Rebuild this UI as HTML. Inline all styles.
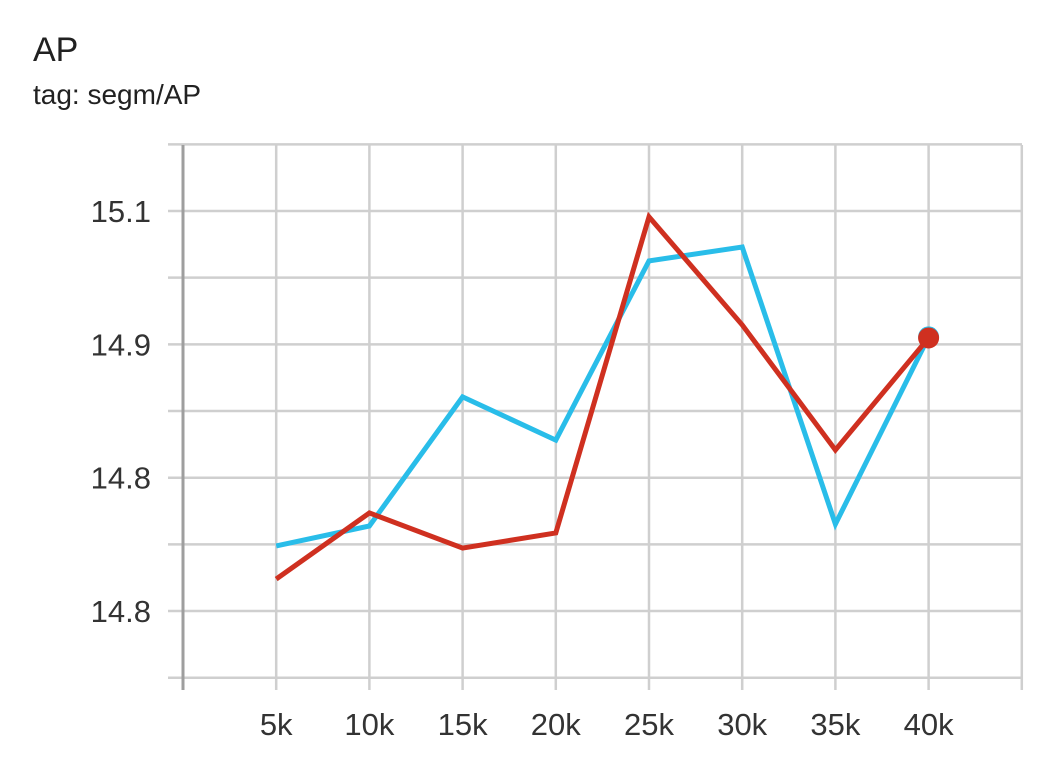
<!DOCTYPE html>
<html><head><meta charset="utf-8"><style>
body{margin:0;background:#fff;width:1040px;height:763px;overflow:hidden;font-family:"Liberation Sans",sans-serif}
</style></head><body>
<svg id="chart" width="1040" height="763" xmlns="http://www.w3.org/2000/svg">
<text x="33" y="61" font-size="34" fill="#212121" font-family="Liberation Sans, sans-serif">AP</text>
<text x="33" y="104" font-size="28" fill="#212121" font-family="Liberation Sans, sans-serif">tag: segm/AP</text>
<g id="grid"></g><g id="series"></g><g id="labels"></g>
</svg>
<script>
const steps=[5,10,15,20,25,30,35,40];
const xTickLabels=["5k","10k","15k","20k","25k","30k","35k","40k"];
const blueValues=[14.9244,14.9319,14.9803,14.9641,15.0313,15.0365,14.9326,15.0028];
const redValues=[14.9120,14.9368,14.9236,14.9293,15.0478,15.0073,14.9604,15.0024];
const yTicks=[15.05,15.0,14.95,14.9];
const yTickLabels=["15.1","14.9","14.8","14.8"];
const ns="http://www.w3.org/2000/svg";
function x(k){return 183+k*18.64;}
function y(v){return 211+(15.05-v)*2667;}
function mk(t,a,p){const e=document.createElementNS(ns,t);for(const k in a)e.setAttribute(k,a[k]);p.appendChild(e);return e;}
const grid=document.getElementById('grid'),ser=document.getElementById('series'),lab=document.getElementById('labels');
for(let i=0;i<=8;i++){
  const v=15.075-i*0.025;
  const l=mk('line',{x1:168,x2:1022,y1:y(v),y2:y(v),stroke:'#cfcfcf','stroke-width':2.5},grid);
  
  
}
for(let k=5;k<=45;k+=5){
  const l=mk('line',{x1:x(k),x2:x(k),y1:145,y2:690,stroke:'#cfcfcf','stroke-width':2.5},grid);
  
  
}
const ax=mk('line',{x1:183,x2:183,y1:145,y2:690,stroke:'#9e9e9e','stroke-width':3},grid);


yTicks.forEach((v,i)=>{
  const t=mk('text',{x:151,y:y(v)+11,'text-anchor':'end','font-size':31,fill:'#333'},lab);
  t.textContent=yTickLabels[i];
  
  
});
steps.forEach((k,i)=>{
  const t=mk('text',{x:x(k),y:735,'text-anchor':'middle','font-size':31,fill:'#333'},lab);
  t.textContent=xTickLabels[i];
  
  
});
function draw(vals,color,name){
  const p=mk('polyline',{points:vals.map((v,i)=>x(steps[i])+','+y(v)).join(' '),fill:'none',stroke:color,'stroke-width':5,'stroke-linejoin':'miter'},ser);
  
  
  const n=vals.length-1;
  const c=mk('circle',{cx:x(steps[n]),cy:y(vals[n]),r:10.5,fill:color},ser);
  
  
}
draw(blueValues,'#29bde9','blue-series');
draw(redValues,'#cf3020','red-series');
</script>
</body></html>
